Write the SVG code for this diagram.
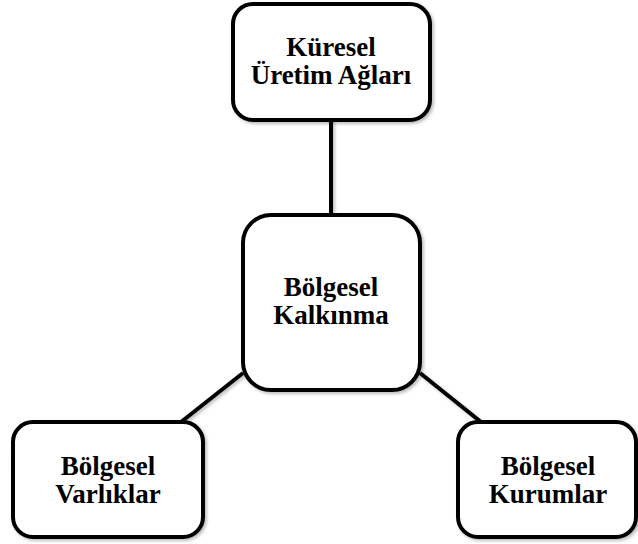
<svg xmlns="http://www.w3.org/2000/svg" width="638" height="544" viewBox="0 0 638 544">
  <defs>
    <filter id="sh" filterUnits="userSpaceOnUse" x="0" y="0" width="638" height="544">
      <feDropShadow dx="2" dy="2" stdDeviation="1.5" flood-color="#000" flood-opacity="0.25"/>
    </filter>
  </defs>
  <style>
    .box { fill: #fff; stroke: #000; stroke-width: 4; filter: url(#sh); }
    .lbl { font-family: "Liberation Serif", "Times New Roman", serif; font-weight: bold; font-size: 27px; fill: #000; text-anchor: middle; }
    .edge { stroke: #000; stroke-width: 4; fill: none; filter: url(#sh); }
  </style>
  <rect width="638" height="544" fill="#fff"/>
  <g id="connectors">
    <line class="edge" x1="331" y1="120" x2="331" y2="215"/>
    <line class="edge" x1="243" y1="373" x2="181" y2="422"/>
    <line class="edge" x1="420" y1="373" x2="481" y2="422"/>
  </g>
  <g id="kuresel">
    <rect class="box" x="233" y="4" width="197" height="116" rx="20"/>
    <text class="lbl" x="331" y="56">Küresel</text>
    <text class="lbl" x="331" y="84">Üretim Ağları</text>
  </g>
  <g id="kalkinma">
    <rect class="box" x="243" y="215" width="177" height="175" rx="28"/>
    <text class="lbl" x="331" y="296">Bölgesel</text>
    <text class="lbl" x="331" y="324">Kalkınma</text>
  </g>
  <g id="varliklar">
    <rect class="box" x="13" y="422" width="190" height="115" rx="20"/>
    <text class="lbl" x="108" y="475">Bölgesel</text>
    <text class="lbl" x="108" y="503">Varlıklar</text>
  </g>
  <g id="kurumlar">
    <rect class="box" x="458" y="422" width="178" height="115" rx="20"/>
    <text class="lbl" x="548" y="475">Bölgesel</text>
    <text class="lbl" x="548" y="503">Kurumlar</text>
  </g>
</svg>
